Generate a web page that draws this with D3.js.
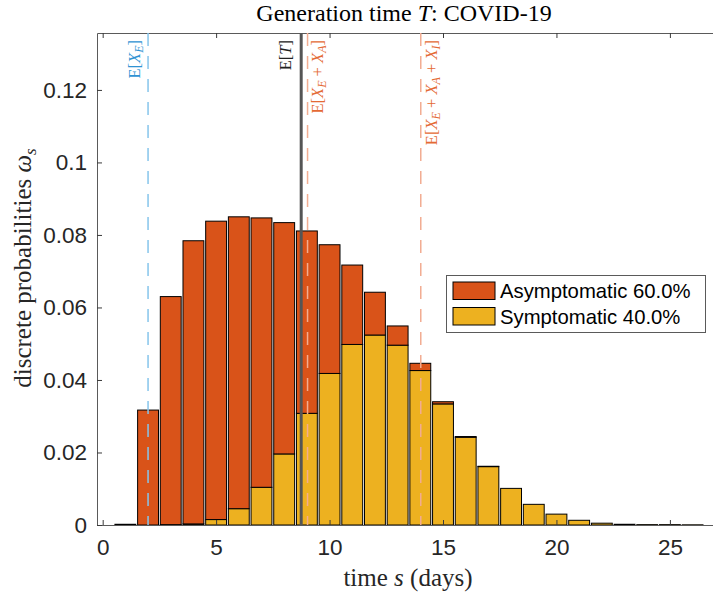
<!DOCTYPE html>
<html>
<head>
<meta charset="utf-8">
<script src="https://cdn.jsdelivr.net/npm/d3@7"></script>
<style>
  body { margin: 0; background: #fff; }
  .tick text { font-family: "Liberation Sans", Arial, sans-serif; fill: #262626; }
</style>
</head>
<body>
<div class="canva"></div>
<script>
var width = 713;
var height = 599;

// values
const days = [1, 2, 3, 4, 5, 6, 7, 8, 9, 10, 11, 12, 13, 14, 15, 16, 17, 18, 19, 20, 21, 22, 23, 24, 25, 26];
const symptomatic = [0, 0, 0.0001, 0.0003, 0.0015, 0.0045, 0.0104, 0.0196, 0.0308, 0.0418, 0.0498, 0.0524, 0.0496,
                     0.0426, 0.0334, 0.0242, 0.0161, 0.0101, 0.0057, 0.003, 0.0013, 0.0005, 0.0002, 0.0001, 0.0001, 0.00005];
const asymptomatic = [0.0002, 0.0317, 0.0629, 0.0781, 0.0823, 0.0805, 0.0743, 0.0638, 0.0503, 0.0355, 0.0219, 0.0118, 0.0053,
                      0.002, 0.0006, 0.0002, 0.0001, 0, 0, 0, 0, 0, 0, 0, 0, 0];
const seriesNames = ['Asymptomatic 60.0%', 'Symptomatic 40.0%'];
const xTicks = [0, 5, 10, 15, 20, 25];
const yTicks = [0, 0.02, 0.04, 0.06, 0.08, 0.1, 0.12];

// expected values (vertical reference lines)
const markerValues = [2.0, 8.75, 9.03, 14.02];
const markerLabels = [
  [['E[', 'n'], ['X', 'i'], ['E', 's'], [']', 'n']],
  [['E[', 'n'], ['T', 'i'], [']', 'n']],
  [['E[', 'n'], ['X', 'i'], ['E', 's'], [' + ', 'n'], ['X', 'i'], ['A', 's'], [']', 'n']],
  [['E[', 'n'], ['X', 'i'], ['E', 's'], [' + ', 'n'], ['X', 'i'], ['A', 's'], [' + ', 'n'], ['X', 'i'], ['I', 's'], [']', 'n']]
];

const canvas = d3.select('.canva');
const svg = canvas.append('svg')
            .attr('width', width)
            .attr('height', height);

const pLeft = 97, pRight = 713, pTop = 33, pBottom = 525;

const x = d3.scaleLinear().domain([-0.25, 26.9]).range([pLeft, pRight]);
const y = d3.scaleLinear().domain([0, 0.1357]).range([pBottom, pTop]);

const rows = days.map((d, i) => ({day: d, sym: symptomatic[i], asym: asymptomatic[i]}));
const stacked = d3.stack().keys(['sym', 'asym'])(rows);
const colors = {sym: '#EDB120', asym: '#D95319'};
const barW = x(0.92) - x(0);

const groups = svg.selectAll('g.layer')
      .data(stacked)
      .enter().append('g')
      .attr('class', 'layer')
      .attr('fill', d => colors[d.key]);

groups.selectAll('rect')
      .data(d => d)
      .enter().append('rect')
      .attr('x', d => x(d.data.day) - barW / 2)
      .attr('width', barW)
      .attr('y', d => y(d[1]))
      .attr('height', d => Math.max(0, y(d[0]) - y(d[1])))
      .attr('stroke', '#000')
      .attr('stroke-width', 1);

// axes, ticks pointing inwards
svg.append('g')
      .attr('transform', `translate(0,${pBottom})`)
      .call(d3.axisBottom(x).tickValues(xTicks).tickSize(-5).tickSizeOuter(0).tickPadding(14)
            .tickFormat(d3.format('d')));
svg.append('g')
      .attr('transform', `translate(0,${pTop})`)
      .call(d3.axisTop(x).tickValues(xTicks).tickSize(-5).tickSizeOuter(0).tickFormat(''));
svg.append('g')
      .attr('transform', `translate(${pLeft},0)`)
      .call(d3.axisLeft(y).tickValues(yTicks).tickSize(-5).tickSizeOuter(0).tickPadding(10)
            .tickFormat(d => d === 0 ? '0' : String(+d.toFixed(2))));

svg.selectAll('.domain').attr('stroke', '#5a5a5a');
svg.selectAll('.tick line').attr('stroke', '#3a3a3a');
svg.selectAll('.tick text').attr('font-size', 22.5);

// reference lines
const markerStyle = [
  {line: '#86c5ec', text: '#2f93d3', dash: '13,10', w: 1.5, off: -8},
  {line: '#555555', text: '#222222', dash: null, w: 3, off: -10},
  {line: '#f2ad92', text: '#e46a35', dash: '13,10', w: 1.5, off: 15},
  {line: '#f2ad92', text: '#e46a35', dash: '13,10', w: 1.5, off: 16}
];

markerValues.forEach((v, i) => {
  const st = markerStyle[i];
  svg.append('line')
     .attr('x1', x(v)).attr('x2', x(v))
     .attr('y1', pTop).attr('y2', pBottom)
     .attr('stroke', st.line)
     .attr('stroke-width', st.w)
     .attr('stroke-dasharray', st.dash);

  const t = svg.append('text')
     .attr('transform', `translate(${x(v) + st.off},40) rotate(-90)`)
     .attr('text-anchor', 'end')
     .attr('font-family', '"Liberation Serif", "Times New Roman", serif')
     .attr('font-size', 16.5)
     .attr('fill', st.text);
  markerLabels[i].forEach((p, j) => {
    const ts = t.append('tspan').text(p[0]);
    const prev = j > 0 ? markerLabels[i][j - 1][1] : 'n';
    if (p[1] === 'i') ts.attr('font-style', 'italic');
    if (p[1] === 's') ts.attr('font-style', 'italic').attr('font-size', 12).attr('dy', 3);
    else if (prev === 's') ts.attr('dy', -3);
  });
});

// title and axis labels
const serif = '"Liberation Serif", "Times New Roman", serif';
const title = svg.append('text')
   .attr('x', 404).attr('y', 21)
   .attr('text-anchor', 'middle')
   .attr('font-family', serif)
   .attr('font-size', 24)
   .attr('fill', '#000');
title.append('tspan').text('Generation time ');
title.append('tspan').attr('font-style', 'italic').text('T');
title.append('tspan').text(': COVID-19');

const xl = svg.append('text')
   .attr('x', 408).attr('y', 586)
   .attr('text-anchor', 'middle')
   .attr('font-family', serif)
   .attr('font-size', 25)
   .attr('fill', '#262626');
xl.append('tspan').text('time ');
xl.append('tspan').attr('font-style', 'italic').text('s');
xl.append('tspan').text(' (days)');

const yl = svg.append('text')
   .attr('transform', 'translate(31,268) rotate(-90)')
   .attr('text-anchor', 'middle')
   .attr('font-family', serif)
   .attr('font-size', 25)
   .attr('fill', '#262626');
yl.append('tspan').text('discrete probabilities ');
yl.append('tspan').attr('font-style', 'italic').text('ω');
yl.append('tspan').attr('font-style', 'italic').attr('font-size', 17).attr('dy', 5).text('s');

// legend
const legend = svg.append('g');
legend.append('rect')
      .attr('x', 446.5).attr('y', 275.5)
      .attr('width', 259).attr('height', 57)
      .attr('fill', '#fff')
      .attr('stroke', '#5a5a5a');
const legendKeys = ['asym', 'sym'];
seriesNames.forEach((name, i) => {
  const yy = 282 + i * 25.5;
  legend.append('rect')
        .attr('x', 453).attr('y', yy)
        .attr('width', 42).attr('height', 17.5)
        .attr('fill', colors[legendKeys[i]])
        .attr('stroke', '#000');
  legend.append('text')
        .attr('x', 500).attr('y', yy + 9)
        .attr('dy', '0.35em')
        .attr('font-family', '"Liberation Sans", Arial, sans-serif')
        .attr('font-size', 20.3)
        .attr('fill', '#000')
        .text(name);
});
</script>
</body>
</html>
